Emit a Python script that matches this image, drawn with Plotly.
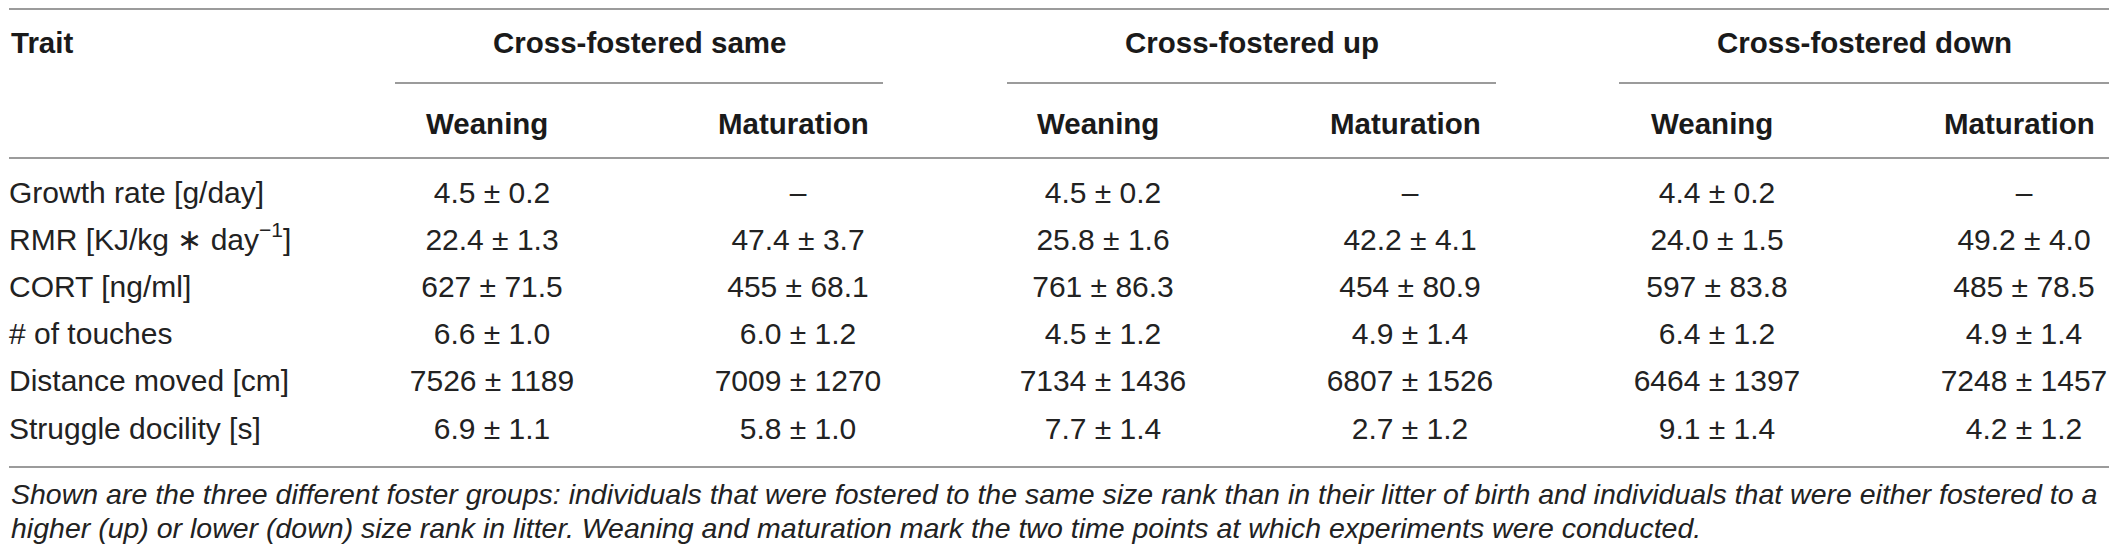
import plotly.graph_objects as go

# table content
traits = [
    "Growth rate [g/day]",
    "RMR [KJ/kg \u2217 day<sup>\u22121</sup>]",
    "CORT [ng/ml]",
    "# of touches",
    "Distance moved [cm]",
    "Struggle docility [s]",
]
groups = ["Cross-fostered same", "Cross-fostered up", "Cross-fostered down"]
stages = ["Weaning", "Maturation"]

same_weaning = ["4.5 \u00b1 0.2", "22.4 \u00b1 1.3", "627 \u00b1 71.5", "6.6 \u00b1 1.0", "7526 \u00b1 1189", "6.9 \u00b1 1.1"]
same_maturation = ["\u2013", "47.4 \u00b1 3.7", "455 \u00b1 68.1", "6.0 \u00b1 1.2", "7009 \u00b1 1270", "5.8 \u00b1 1.0"]
up_weaning = ["4.5 \u00b1 0.2", "25.8 \u00b1 1.6", "761 \u00b1 86.3", "4.5 \u00b1 1.2", "7134 \u00b1 1436", "7.7 \u00b1 1.4"]
up_maturation = ["\u2013", "42.2 \u00b1 4.1", "454 \u00b1 80.9", "4.9 \u00b1 1.4", "6807 \u00b1 1526", "2.7 \u00b1 1.2"]
down_weaning = ["4.4 \u00b1 0.2", "24.0 \u00b1 1.5", "597 \u00b1 83.8", "6.4 \u00b1 1.2", "6464 \u00b1 1397", "9.1 \u00b1 1.4"]
down_maturation = ["\u2013", "49.2 \u00b1 4.0", "485 \u00b1 78.5", "4.9 \u00b1 1.4", "7248 \u00b1 1457", "4.2 \u00b1 1.2"]

caption = [
    "Shown are the three different foster groups: individuals that were fostered to the same size rank than in their "
    "litter of birth and individuals that were either fostered to a",
    "higher (up) or lower (down) size rank in litter. Weaning and maturation mark the two time points at which "
    "experiments were conducted.",
]

columns = [same_weaning, same_maturation, up_weaning, up_maturation, down_weaning, down_maturation]

# the page body has an 8px margin, so the figure is made 16px smaller and
# the axes are set up so that data units equal window pixels
OFF = 8
W, H = 2118 - 2 * OFF, 552 - 2 * OFF
LEFT, RIGHT = 9, 2109
col_x = [487, 793, 1098, 1405, 1712, 2019]
group_span = [(395, 883), (1007, 1496), (1619, 2109)]
row_y0, row_step = 195, 47.2
y_group, y_line, y_sub = 42, 83, 123
y_top, y_head, y_bottom = 9, 158, 467
y_caption = [494, 528]

FONT = "Liberation Sans, Arial, Helvetica, sans-serif"
INK = "#222222"
RULE = "#7a7a7a"

row_y = [row_y0 + i * row_step for i in range(len(traits))]

fig = go.Figure()

# trait names
fig.add_trace(go.Scatter(
    x=[LEFT] * len(traits), y=row_y, text=traits, mode="text",
    textposition="middle right", textfont=dict(family=FONT, size=30, color=INK),
    hoverinfo="skip", showlegend=False, cliponaxis=False,
))

# values
for cx, vals in zip(col_x, columns):
    fig.add_trace(go.Scatter(
        x=[cx + 5] * len(vals), y=row_y, text=vals, mode="text",
        textposition="middle center", textfont=dict(family=FONT, size=30, color=INK),
        hoverinfo="skip", showlegend=False, cliponaxis=False,
    ))

# headers
bold = dict(family=FONT, size=29.5, color="#1a1a1a", weight="bold")
fig.add_annotation(x=LEFT, y=y_group, text="Trait", showarrow=False,
                   xanchor="left", yanchor="middle", font=bold)
for g, (a, b) in zip(groups, group_span):
    fig.add_annotation(x=(a + b) / 2, y=y_group, text=g, showarrow=False,
                       xanchor="center", yanchor="middle", font=bold)
    fig.add_shape(type="line", x0=a, x1=b, y0=y_line, y1=y_line,
                  line=dict(color=RULE, width=1.6))
for i, cx in enumerate(col_x):
    fig.add_annotation(x=cx, y=y_sub, text=stages[i % 2], showarrow=False,
                       xanchor="center", yanchor="middle", font=bold)

# horizontal rules
for yy in (y_top, y_head, y_bottom):
    fig.add_shape(type="line", x0=LEFT, x1=RIGHT, y0=yy, y1=yy,
                  line=dict(color=RULE, width=1.6))

# caption
for line, yy in zip(caption, y_caption):
    fig.add_annotation(x=LEFT, y=yy, text=line, showarrow=False,
                       xanchor="left", yanchor="middle",
                       font=dict(family=FONT, size=28.5, color=INK, style="italic"))

fig.update_xaxes(range=[OFF, OFF + W], visible=False, fixedrange=True)
fig.update_yaxes(range=[OFF + H, OFF], visible=False, fixedrange=True)
fig.update_layout(
    width=W, height=H, margin=dict(l=0, r=0, t=0, b=0),
    plot_bgcolor="white", paper_bgcolor="white",
)

fig.write_html("out.html")
